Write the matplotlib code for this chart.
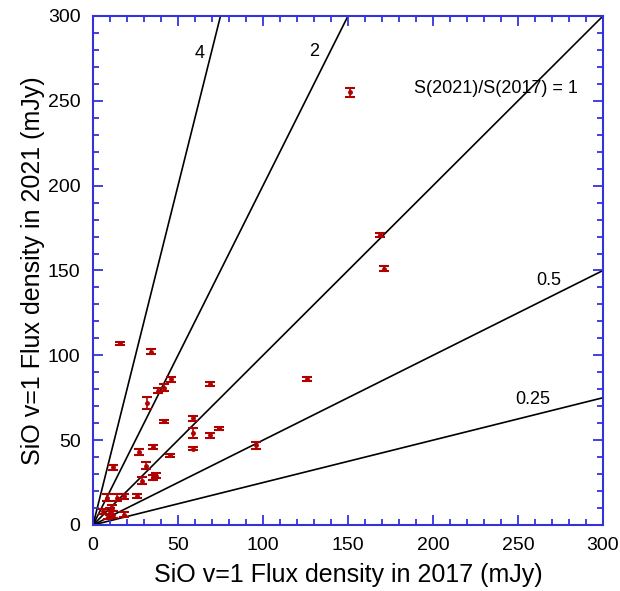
import numpy as np
import matplotlib.pyplot as plt
from matplotlib.ticker import MultipleLocator

plt.rcParams['font.family'] = ['Liberation Sans', 'DejaVu Sans']

# flujos SiO v=1 (mJy)
flux2017 = [151, 169, 171, 126, 96, 16, 34, 46, 38, 42, 32, 69, 42, 59, 59, 69, 74,
            59, 45, 35, 27, 31, 12, 29, 35, 37, 8, 14, 18, 26, 6, 10, 12, 9, 11, 18]
flux2021 = [255, 171, 151, 86, 47, 107, 102, 86, 79, 81, 72, 83, 61, 63, 54, 53, 57,
            45, 41, 46, 43, 35, 34, 26, 28, 29, 16, 16, 17, 17, 8, 8, 6, 5, 10, 6]
err2021 = [2.5, 1, 1.5, 1, 2, 1, 1.5, 1.5, 1.5, 2, 3.5, 1, 1, 1.5, 3, 1.5, 1,
           1, 1, 1, 1.5, 2, 1.5, 2, 1.5, 1.5, 2, 2, 1.5, 1, 1.5, 2, 2, 1.5, 1.5, 1.5]

ratios = [4, 2, 1, 0.5, 0.25]
ratio_labels = ['4', '2', 'S(2021)/S(2017) = 1', '0.5', '0.25']
label_pos = [(59.5, 278), (127, 279), (189, 257), (261, 144), (248.5, 74)]

fig = plt.figure(figsize=(6.2, 5.91), dpi=100)
ax = fig.add_axes([0.15, 0.1117, 0.8226, 0.8613])

x = np.array([0, 300])
for r in ratios:
    ax.plot(x, r * x, color='black', lw=1.2, zorder=1)
for txt, (tx, ty) in zip(ratio_labels, label_pos):
    ax.text(tx, ty, txt, fontsize=13, ha='left', va='center')

ax.errorbar(flux2017, flux2021, yerr=err2021, fmt='o', ms=2.5, color='#b00000',
            ecolor='#b00000', elinewidth=1.2, capsize=3.5, capthick=1.5, zorder=3)

ax.set_xlim(0, 300)
ax.set_ylim(0, 300)
ax.xaxis.set_major_locator(MultipleLocator(50))
ax.yaxis.set_major_locator(MultipleLocator(50))
ax.xaxis.set_minor_locator(MultipleLocator(10))
ax.yaxis.set_minor_locator(MultipleLocator(10))
ax.tick_params(which='both', direction='in', top=True, right=True, color='#3333dd',
               labelsize=14, width=1.3, pad=9)
ax.tick_params(which='major', length=7)
ax.tick_params(which='minor', length=4)
for s in ax.spines.values():
    s.set_color('#3333dd')
    s.set_linewidth(1.5)

ax.set_xlabel('SiO v=1 Flux density in 2017 (mJy)', fontsize=18, labelpad=6)
ax.set_ylabel('SiO v=1 Flux density in 2021 (mJy)', fontsize=18, labelpad=2)

fig.savefig('out.png', dpi=100)
